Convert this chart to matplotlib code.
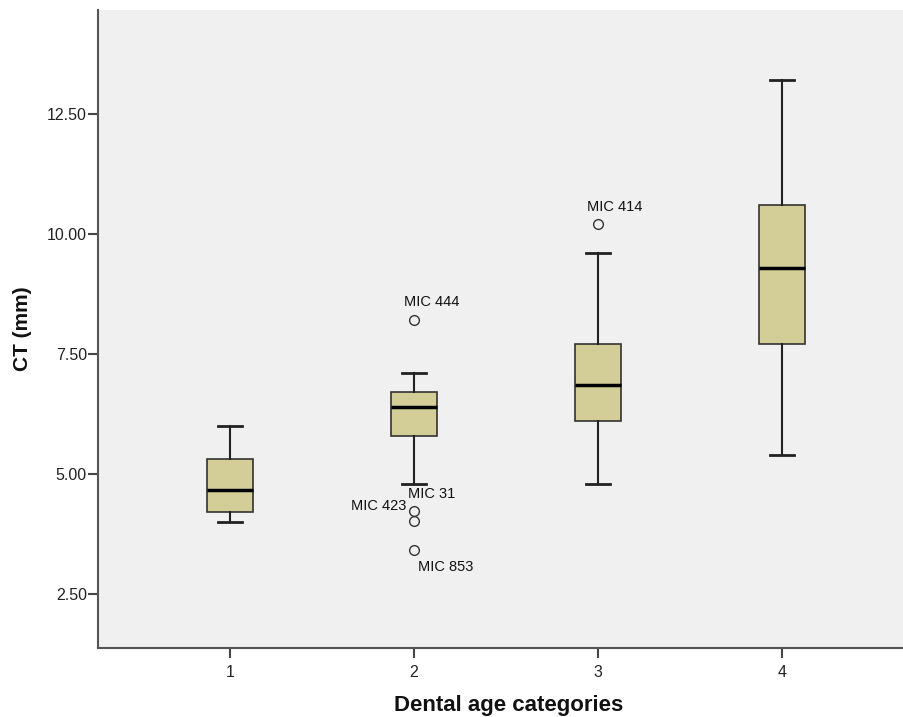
import matplotlib

matplotlib.use("Agg")
import matplotlib.pyplot as plt

plt.rcParams["font.family"] = ["Liberation Sans", "DejaVu Sans"]

# box statistics (CT in mm)
categories = [1, 2, 3, 4]
whisker_low = [4.0, 4.8, 4.8, 5.4]
q1 = [4.21, 5.8, 6.1, 7.7]
median = [4.66, 6.4, 6.86, 9.3]
q3 = [5.31, 6.7, 7.7, 10.6]
whisker_high = [6.0, 7.1, 9.6, 13.2]

# labelled outliers and where their labels sit (dx px, dy px, ha)
outlier_cat = [2, 2, 2, 2, 3]
outlier_val = [8.2, 4.22, 4.02, 3.42, 10.2]
outlier_lbl = ["MIC 444", "MIC 423", "MIC 31", "MIC 853", "MIC 414"]
label_off = [(18, 18, "center"), (-8, 5, "right"), (-6, 27, "left"), (4, -17, "left"), (17, 17, "center")]

y_ticks = [2.5, 5.0, 7.5, 10.0, 12.5]

stats = []
for i, c in enumerate(categories):
    fl = [v for oc, v in zip(outlier_cat, outlier_val) if oc == c]
    stats.append({
        "whislo": whisker_low[i], "q1": q1[i], "med": median[i],
        "q3": q3[i], "whishi": whisker_high[i], "fliers": fl,
    })

fig = plt.figure(figsize=(9.04, 7.17), dpi=100)
ax = fig.add_axes([0.1084, 0.0962, 0.8916, 0.89])
ax.set_facecolor("#f0f0f0")

ax.bxp(
    stats, positions=categories, widths=0.25, patch_artist=True,
    boxprops=dict(facecolor="#d3ce98", edgecolor="#333333", linewidth=1.2),
    medianprops=dict(color="black", linewidth=2.5),
    whiskerprops=dict(color="#222222", linewidth=1.5),
    capprops=dict(color="#222222", linewidth=2.0),
    capwidths=0.13,
    flierprops=dict(marker="o", markerfacecolor="none", markeredgecolor="#333333",
                    markersize=7, markeredgewidth=1.0),
)

for c, v, lbl, (dx, dy, ha) in zip(outlier_cat, outlier_val, outlier_lbl, label_off):
    ax.annotate(lbl, (c, v), xytext=(dx, dy), textcoords="offset pixels",
                ha=ha, va="center", fontsize=10.5, color="#111111")

ax.set_xlim(0.283, 4.663)
ax.set_ylim(1.375, 14.67)
ax.set_xticks(categories)
ax.set_xticklabels([str(c) for c in categories])
ax.set_yticks(y_ticks)
ax.set_yticklabels([f"{t:.2f}" for t in y_ticks])
ax.tick_params(axis="both", labelsize=11.5, length=7, width=1.5, color="#444444",
               labelcolor="#222222")
ax.tick_params(axis="x", pad=5)
ax.tick_params(axis="y", pad=1)

for side in ["top", "right"]:
    ax.spines[side].set_visible(False)
for side in ["left", "bottom"]:
    ax.spines[side].set_color("#555555")
    ax.spines[side].set_linewidth(1.5)

ax.set_ylabel("CT (mm)", fontsize=15, fontweight="bold", color="#111111")
ax.set_xlabel("Dental age categories", fontsize=16, fontweight="bold", color="#111111")
ax.yaxis.set_label_coords(-0.094, 0.5)
ax.yaxis.label.set_va("center")
ax.xaxis.set_label_coords(0.51, -0.09)
ax.xaxis.label.set_va("center")

fig.savefig("out.png", dpi=100, facecolor="white")
